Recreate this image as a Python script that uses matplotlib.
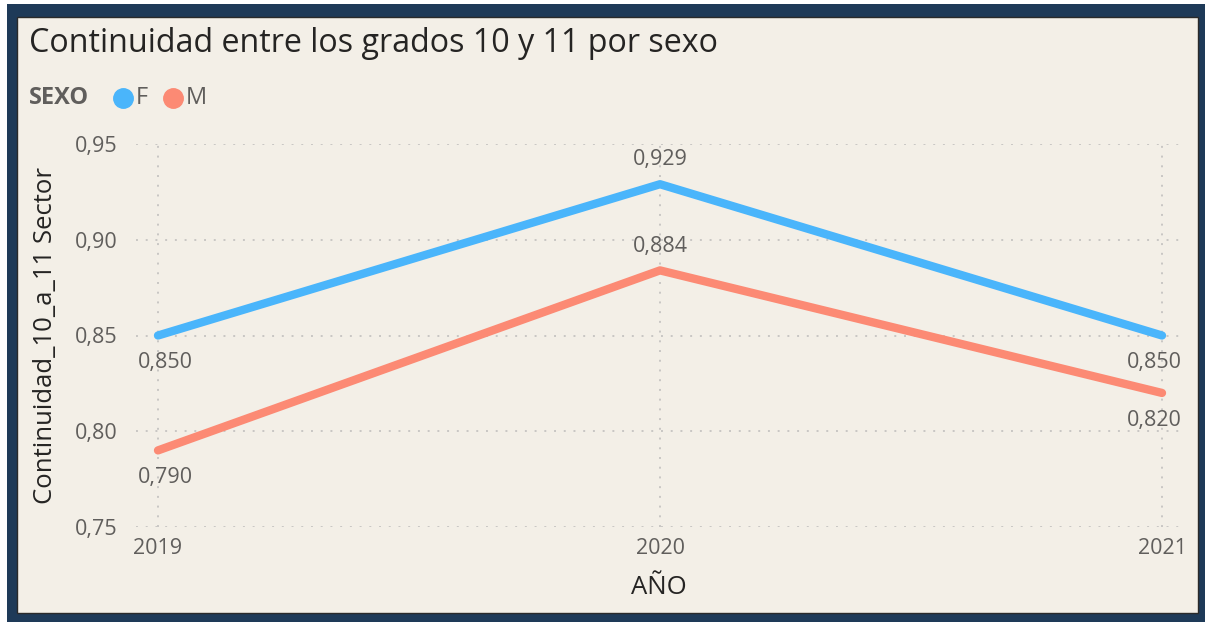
import matplotlib
matplotlib.use("Agg")
import matplotlib.pyplot as plt
from matplotlib.patches import Rectangle
from matplotlib.lines import Line2D

years = [2019, 2020, 2021]
serie_f = [0.850, 0.929, 0.850]
serie_m = [0.790, 0.884, 0.820]
y_ticks = [0.75, 0.80, 0.85, 0.90, 0.95]
title = "Continuidad entre los grados 10 y 11 por sexo"
y_label = "Continuidad_10_a_11 Sector"
x_label = "AÑO"

BG = "#F3EFE7"
NAVY = "#1E3A58"
BLUE = "#4AB5FB"
SALMON = "#FC8A74"
GREY = "#605E5C"
DARK = "#252423"
FONT = "Open Sans"

W, H = 1205, 622
fig = plt.figure(figsize=(W / 100, H / 100), dpi=100)
fig.patch.set_facecolor("white")

def fx(px):
    return px / W

def fy(py):
    return 1 - py / H

# navy frame and inner panel
fig.patches.append(Rectangle((fx(7), fy(622)), fx(1198), 618 / H, transform=fig.transFigure,
                             facecolor=NAVY, edgecolor="none", zorder=0))
fig.patches.append(Rectangle((fx(17), fy(613)), fx(1181), 596 / H, transform=fig.transFigure,
                             facecolor=BG, edgecolor="#2a2a2a", linewidth=1.0, zorder=1))

ax = fig.add_axes([fx(136), fy(527), fx(1181 - 136), (527 - 144) / H])
ax.set_facecolor("none")
ax.set_zorder(2)

for vals, col in [(serie_f, BLUE), (serie_m, SALMON)]:
    ax.plot(years, vals, color=col, linewidth=6, solid_capstyle="round",
            solid_joinstyle="round", zorder=3)

x0 = years[0] - 22 / 502
x1 = years[-1] + 19 / 502
ax.set_xlim(x0, x1)
ax.set_ylim(0.75, 0.95)
ax.set_xticks(years)
ax.set_xticklabels([str(y) for y in years])
ax.set_yticks(y_ticks)
ax.set_yticklabels([f"{v:.2f}".replace(".", ",") for v in y_ticks])
ax.tick_params(length=0, labelsize=15.5, colors=GREY)
for lab in ax.get_xticklabels() + ax.get_yticklabels():
    lab.set_fontfamily(FONT)
ax.tick_params(axis="y", pad=13)
ax.tick_params(axis="x", pad=8)
for s in ax.spines.values():
    s.set_visible(False)
ax.grid(True, color="#C8C6C4", linestyle=(0, (1, 4)), linewidth=1.4)

def label(xv, yv, where, dx=0, ha="center"):
    txt = f"{yv:.3f}".replace(".", ",")
    if where == "below":
        ax.annotate(txt, (xv, yv), xytext=(dx, -12), textcoords="offset points",
                    ha=ha, va="top", fontsize=15.5, color=GREY, family=FONT)
    else:
        ax.annotate(txt, (xv, yv), xytext=(dx, 10), textcoords="offset points",
                    ha=ha, va="bottom", fontsize=15.5, color=GREY, family=FONT)

label(years[0], serie_f[0], "below", dx=5)
label(years[1], serie_f[1], "above")
label(years[2], serie_f[2], "below", dx=14, ha="right")
label(years[0], serie_m[0], "below", dx=5)
label(years[1], serie_m[1], "above")
label(years[2], serie_m[2], "below", dx=14, ha="right")

ax.set_ylabel(y_label, fontsize=18.5, color=DARK, family=FONT)
ax.yaxis.set_label_coords(-(136 - 46) / (1181 - 136), 0.5)
ax.set_xlabel(x_label, fontsize=18.5, color=DARK, family=FONT)
ax.xaxis.set_label_coords(0.5, -(588 - 527) / (527 - 144))
ax.xaxis.label.set_va("center")
ax.yaxis.label.set_va("center")

# title
fig.text(fx(29), fy(43), title, fontsize=23.2, color=DARK, family=FONT,
         ha="left", va="center")

# legend
fig.text(fx(29), fy(98), "SEXO", fontsize=17, color=GREY, family=FONT,
         fontweight="bold", ha="left", va="center")
fig.add_artist(Line2D([fx(123)], [fy(98)], marker="o", markersize=14, color=BLUE,
                      linestyle="none", transform=fig.transFigure))
fig.text(fx(136), fy(98), "F", fontsize=17, color=GREY, family=FONT, ha="left", va="center")
fig.add_artist(Line2D([fx(173)], [fy(98)], marker="o", markersize=14, color=SALMON,
                      linestyle="none", transform=fig.transFigure))
fig.text(fx(186), fy(98), "M", fontsize=17, color=GREY, family=FONT, ha="left", va="center")

fig.savefig("out.png", dpi=100, facecolor=fig.get_facecolor())
